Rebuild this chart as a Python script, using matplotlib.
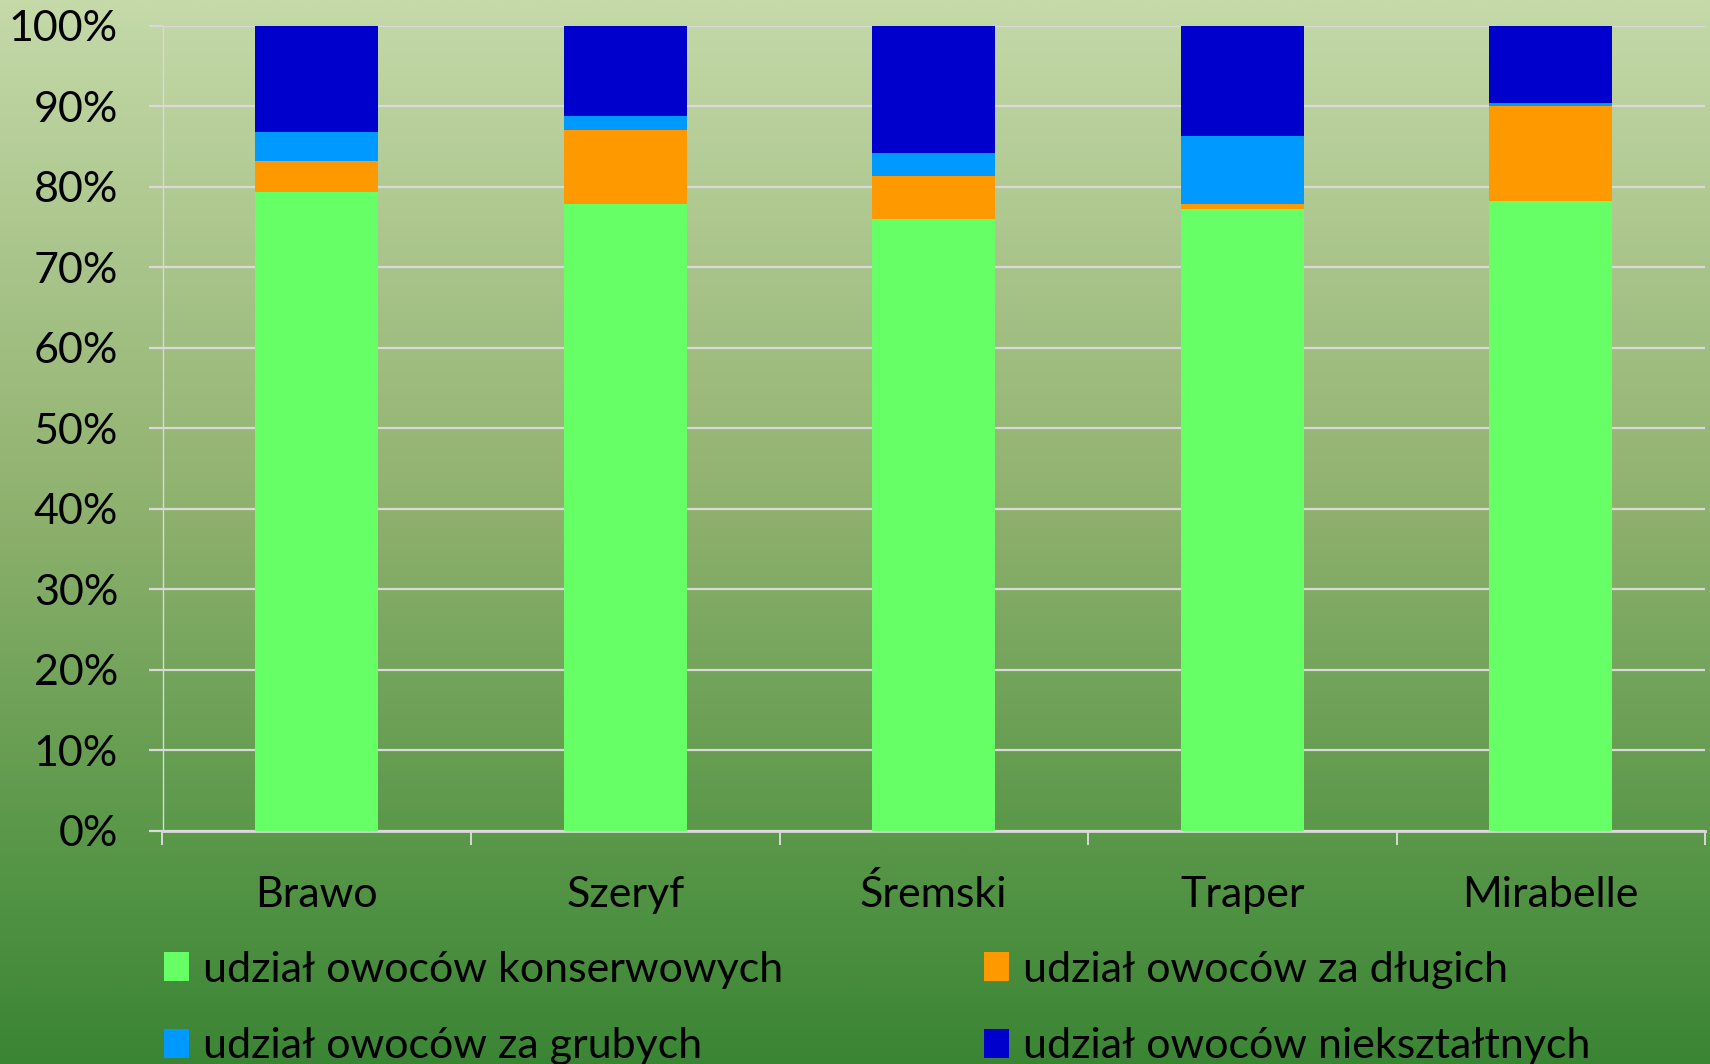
import numpy as np
import matplotlib
matplotlib.use("Agg")
import matplotlib.pyplot as plt
from matplotlib.colors import LinearSegmentedColormap
from matplotlib.ticker import FixedLocator, PercentFormatter

plt.rcParams['font.family'] = ['Lato', 'DejaVu Sans']

categories = ["Brawo", "Szeryf", "Śremski", "Traper", "Mirabelle"]
series_names = ["udział owoców konserwowych", "udział owoców za długich",
                "udział owoców za grubych", "udział owoców niekształtnych"]
konserwowe = [79.4, 77.9, 76.0, 77.3, 78.2]
za_dlugie = [3.8, 9.1, 5.3, 0.5, 11.85]
za_grube = [3.6, 1.8, 2.9, 8.5, 0.35]
nieksztaltne = [13.2, 11.2, 15.8, 13.7, 9.6]
y_ticks = [0, 10, 20, 30, 40, 50, 60, 70, 80, 90, 100]

colors = ["#66ff66", "#ff9900", "#0099ff", "#0000cc"]

W, H = 1710, 1064
DPI = 100
fig = plt.figure(figsize=(W / DPI, H / DPI), dpi=DPI)

# gradient background
bg = fig.add_axes([0, 0, 1, 1], zorder=-10)
cmap = LinearSegmentedColormap.from_list(
    "bg", [(0.0, "#c5d9a9"), (0.47, "#90b26f"), (0.78, "#5b984a"), (1.0, "#3a8534")])
grad = np.linspace(0, 1, 512).reshape(-1, 1)
bg.imshow(grad, aspect="auto", cmap=cmap, extent=[0, 1, 1, 0])
bg.set_axis_off()

left, right, top, bottom = 162.5, 1705, 25.7, 831
ax = fig.add_axes([left / W, 1 - bottom / H, (right - left) / W, (bottom - top) / H])
ax.set_facecolor("none")

x = np.arange(len(categories))
data = [konserwowe, za_dlugie, za_grube, nieksztaltne]
bottoms = np.zeros(len(categories))
handles = []
for vals, c, name in zip(data, colors, series_names):
    vals = np.array(vals, dtype=float)
    b = ax.bar(x, vals, width=0.4, bottom=bottoms, color=c, label=name, zorder=3)
    handles.append(b)
    bottoms = bottoms + vals

ax.set_xlim(-0.5, len(categories) - 0.5)
ax.set_ylim(0, 100)
ax.yaxis.set_major_locator(FixedLocator(y_ticks))
ax.yaxis.set_major_formatter(PercentFormatter(decimals=0))
grid_c = "#d9d9d9"
ax.grid(axis="y", color=grid_c, linewidth=1.6, zorder=1)
ax.set_axisbelow(True)

ax.set_xticks(x)
ax.set_xticklabels(categories)
ax.set_xticks(np.arange(-0.5, len(categories), 1.0), minor=True)
ax.tick_params(axis="x", which="major", length=0, pad=55, labelsize=31, labelcolor="black")
for lbl in ax.get_xticklabels():
    lbl.set_verticalalignment("baseline")
ax.tick_params(axis="x", which="minor", length=10, width=1.4, color=grid_c, direction="out")
ax.tick_params(axis="y", length=10, width=1.6, color=grid_c, pad=22, labelsize=31, labelcolor="black")

for s in ["top", "right"]:
    ax.spines[s].set_visible(False)
ax.spines["bottom"].set_color(grid_c)
ax.spines["bottom"].set_linewidth(2.0)
ax.spines["left"].set_color(grid_c)
ax.spines["left"].set_linewidth(1.0)

# legend: two columns
row_mid = H - (968 + 1044) / 2 - 2
leg_kw = dict(loc="center left", frameon=False, fontsize=31, borderpad=0,
              borderaxespad=0, handlelength=0.58, handleheight=0.67,
              handletextpad=0.33, labelspacing=0.9)
leg1 = fig.legend([handles[0], handles[2]], [series_names[0], series_names[2]],
                  bbox_to_anchor=(163.6 / W, row_mid / H), **leg_kw)
leg2 = fig.legend([handles[1], handles[3]], [series_names[1], series_names[3]],
                  bbox_to_anchor=(984 / W, row_mid / H), **leg_kw)

fig.savefig("out.png", dpi=DPI)
